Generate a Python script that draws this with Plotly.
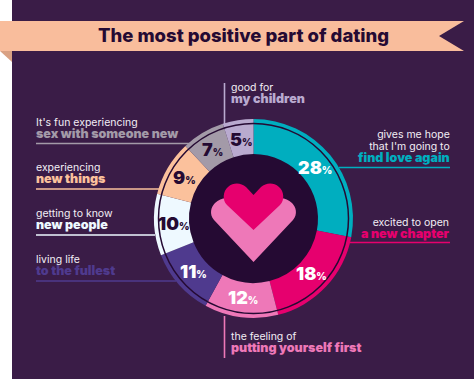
import math
import plotly.graph_objects as go

W, H = 474, 379
TITLE = "The most positive part of dating"
values = [28, 18, 12, 11, 10, 9, 7, 5]
slice_colors = ["#00aebf", "#e6006e", "#ee78b8", "#4f3a8e", "#eef9ff", "#fbc19c", "#a39aa8", "#b9aacf"]
pct_colors = ["#ffffff", "#ffffff", "#ffffff", "#ffffff", "#250a33", "#250a33", "#250a33", "#250a33"]

line1 = [["gives me hope", "that I'm going to"], ["excited to open"], ["the feeling of"], ["living life"],
         ["getting to know"], ["experiencing"], ["It's fun experiencing"], ["good for"]]
line2 = ["find love again", "a new chapter", "putting yourself first", "to the fullest",
         "new people", "new things", "sex with someone new", "my children"]
label_x = [452, 452, 229, 34, 34, 34, 34, 229]
label_y = [146, 228, 342.5, 265, 219, 173, 128, 93]
label_anchor = ["right", "right", "left", "left", "left", "left", "left", "left"]
leaders = [(339, 167.5, 450, 167.5), (350, 242.5, 450, 242.5), (224.5, 316, 224.5, 358), (36, 281, 176, 281),
           (36, 235, 155, 235), (36, 189, 160, 189), (36, 143.5, 190, 143.5), (224.5, 83, 224.5, 124)]

CX, CY, R, R_LINE, R_IN, R_TEXT = 253.5, 218.5, 99.5, 95, 64.5, 80
BG = "#3a1c47"
DARK = "#250a33"
FONT = "Inter"

def circle(r, **kw):
    return dict(type="circle", xref="x", yref="y", x0=CX - r, x1=CX + r, y0=CY - r, y1=CY + r, **kw)

def path(d, color, layer="below"):
    return dict(type="path", xref="x", yref="y", path=d, fillcolor=color, line=dict(width=0), layer=layer)

shapes = [
    dict(type="rect", xref="x", yref="y", x0=12, x1=W, y0=0, y1=H, fillcolor=BG, line=dict(width=0), layer="below"),
    path("M0,51 L12,51 L12,62 Z", "#d9a183"),
    path("M0,21 L464,21 L439,36 L464,51 L0,51 Z", "#f9bd9c"),
    circle(R_IN + 1, fillcolor=DARK, line=dict(width=0), layer="below"),
    circle(R_LINE, fillcolor="rgba(0,0,0,0)", line=dict(color=DARK, width=1.5), layer="above"),
    path("M253.5,262 L214,220 C209,214 211,207 215,203 C221,197 229,197 234,201 L253.5,216 L273,201 "
         "C278,197 286,197 292,203 C296,207 298,214 293,220 Z", "#ee78b8", "above"),
    path("M253.5,230 L227,205 C222,200 223,191 228,187 C234,182 241,183 246,187 L253.5,195 L261,187 "
         "C266,183 273,182 279,187 C284,191 285,200 280,205 Z", "#e6006e", "above"),
]
for (x0, y0, x1, y1), c in zip(leaders, slice_colors):
    shapes.append(dict(type="line", xref="x", yref="y", x0=x0, y0=y0, x1=x1, y1=y1,
                       line=dict(color=c, width=1.6), layer="below"))

annotations = [dict(x=243, y=35, xref="x", yref="y", text=TITLE, showarrow=False, xanchor="center", yanchor="middle",
                    font=dict(family=FONT, size=18.5, color="#250a33", weight=800))]
for a, b, x, y, anc, c in zip(line1, line2, label_x, label_y, label_anchor, slice_colors):
    plain = "<br>".join(f"<span style='font-size:10.5px'>{t}</span>" for t in a)
    bold = f"<span style='font-size:12.5px;font-weight:900;fill:{c}'>{b}</span>"
    annotations.append(dict(x=x, y=y, xref="x", yref="y", text=f"{plain}<br>{bold}", showarrow=False,
                            xanchor=anc, yanchor="middle", align=anc,
                            font=dict(family=FONT, size=9.3, color="#f3eef5")))

total = sum(values)
cum = 0
for v, c in zip(values, pct_colors):
    ang = 2 * math.pi * (cum + v / 2) / total
    cum += v
    annotations.append(dict(x=CX + R_TEXT * math.sin(ang), y=CY - R_TEXT * math.cos(ang), xref="x", yref="y",
                            text=f"{v}<span style='font-size:10px'>%</span>", showarrow=False,
                            xanchor="center", yanchor="middle",
                            font=dict(family=FONT, size=18, color=c, weight=900)))

fig = go.Figure()
fig.add_trace(go.Scatter(x=[0, W], y=[0, H], mode="markers", marker=dict(opacity=0), hoverinfo="skip", showlegend=False))
fig.add_trace(go.Pie(
    values=values, sort=False, direction="clockwise", rotation=0, hole=R_IN / R,
    marker=dict(colors=slice_colors, line=dict(width=0)), textinfo="none",
    domain=dict(x=[(CX - R) / W, (CX + R) / W], y=[1 - (CY + R) / H, 1 - (CY - R) / H]),
    showlegend=False, hoverinfo="skip",
))
fig.update_layout(
    width=W, height=H, margin=dict(l=0, r=0, t=0, b=0), paper_bgcolor="#ffffff", plot_bgcolor="rgba(0,0,0,0)",
    xaxis=dict(range=[0, W], visible=False, domain=[0, 1], fixedrange=True),
    yaxis=dict(range=[H, 0], visible=False, domain=[0, 1], fixedrange=True),
    shapes=shapes, annotations=annotations, showlegend=False,
)
fig.write_html("out.html", config=dict(displayModeBar=False),
               post_script="document.body.style.margin='0';document.documentElement.style.overflow='hidden';")
